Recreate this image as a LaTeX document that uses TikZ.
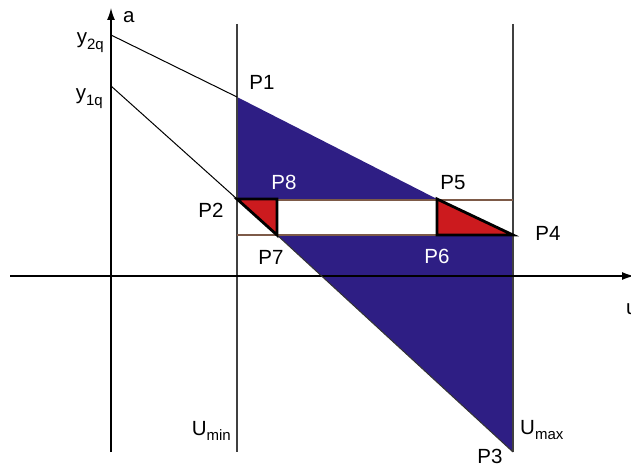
\documentclass[tikz,border=0pt]{standalone}
\usepackage{fontspec}
\setmainfont{Liberation Sans}
\usetikzlibrary{arrows.meta}
\definecolor{fillblue}{RGB}{46,30,132}
\definecolor{fillred}{RGB}{204,26,30}
\definecolor{brownline}{RGB}{125,90,72}
\newcommand{\lowidx}[1]{\raisebox{-0.28em}{\fontsize{15}{16}\selectfont #1}}
\tikzset{
  axisline/.style={line width=1.3pt, black, -{Latex[length=12pt,width=8pt]}},
  boundline/.style={line width=1.3pt, black!75},
  thinline/.style={line width=1pt, black},
  levelline/.style={line width=2.5pt, brownline},
  redtri/.style={fill=fillred, draw=black, line width=2.8pt, line join=miter},
  lbl/.style={inner sep=0pt, font=\fontsize{20.5}{22}\selectfont},
  wlbl/.style={lbl, text=white}
}
\begin{document}
\begin{tikzpicture}[x=1pt,y=-1pt]
\useasboundingbox (0,0) rectangle (631,468);
% key points
\coordinate (Y2) at (111,35);
\coordinate (Y1) at (111,86);
\coordinate (P1) at (237,97);
\coordinate (P2) at (237,199);
\coordinate (P8) at (277,199);
\coordinate (P7) at (277,235);
\coordinate (P5) at (437,199);
\coordinate (P6) at (437,235);
\coordinate (P4) at (513,235);
\coordinate (P3) at (513,452);
\coordinate (UminT) at (237,24);
\coordinate (UminB) at (237,452);
\coordinate (UmaxT) at (513,24);
\coordinate (AxB) at (111,452);
\coordinate (AxT) at (111,8);
\coordinate (HxL) at (10,276);
\coordinate (HxR) at (634,276);
\coordinate (L1) at (237,200);
\coordinate (R1) at (513,200);
\coordinate (L2) at (237,235);
% blue regions
\fill[fillblue] (P1) -- (P5) -- (P2) -- cycle;
\fill[fillblue] (P7) -- (P4) -- (P3) -- cycle;
% axes and bounds
\draw[boundline] (UminT) -- (UminB);
\draw[boundline] (UmaxT) -- (P3);
\draw[axisline] (AxB) -- (AxT);
\draw[axisline] (HxL) -- (HxR);
% lines
\draw[thinline] (Y2) -- (P1);
\draw[thinline] (Y1) -- (P2);
\draw[thinline, black!80] (P7) -- (P3);
\draw[levelline] (L1) -- (R1);
\draw[levelline] (L2) -- (P4);
% red triangles
\draw[redtri] (P2) -- (P8) -- (P7) -- cycle;
\draw[redtri] (P5) -- (P6) -- (P4) -- cycle;
% labels
\node[lbl, anchor=west] (la) at (123,17) {a};
\node[lbl, anchor=east] (ly2) at (104,43) {y\lowidx{2q}};
\node[lbl, anchor=east] (ly1) at (103,99) {y\lowidx{1q}};
\node[lbl] (lP1) at (262,82) {P1};
\node[wlbl] (lP8) at (284,182) {P8};
\node[lbl] (lP2) at (211,210) {P2};
\node[lbl] (lP5) at (453,183) {P5};
\node[lbl] (lP4) at (548,233) {P4};
\node[lbl] (lP7) at (271,257) {P7};
\node[wlbl] (lP6) at (437,256) {P6};
\node[lbl, anchor=east] (lUmin) at (231,431) {U\lowidx{min}};
\node[lbl, anchor=west] (lUmax) at (520,430) {U\lowidx{max}};
\node[lbl] (lP3) at (490,456) {P3};
\node[lbl, anchor=west] (lu) at (626,309) {u};
\end{tikzpicture}
\end{document}
